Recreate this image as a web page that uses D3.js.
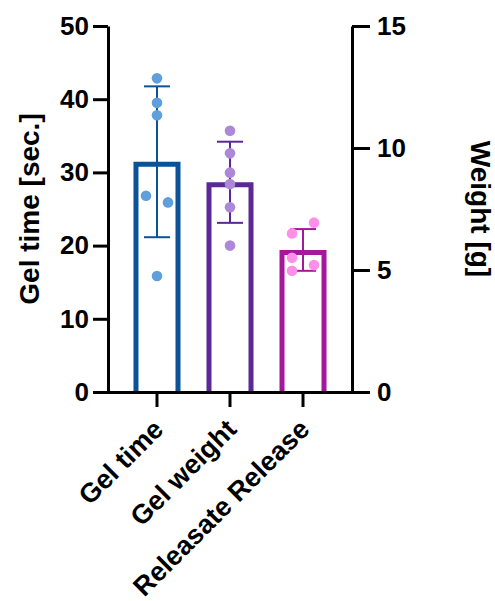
<!DOCTYPE html>
<html lang="en">
  <head>
    <meta charset="UTF-8" />
    <title>Gel time and weight</title>
    <style>
      body {
        margin: 0;
        background: #fff;
      }
      svg text {
        font-family: "Liberation Sans", Arial, sans-serif;
        font-weight: bold;
        fill: #000;
      }
    </style>
  </head>
  <body>
    <svg id="chart"></svg>
    <script src="https://d3js.org/d3.v7.min.js"></script>
    <script>
      const categories = ["Gel time", "Gel weight", "Releasate Release"];
      const axisFor = ["left", "right", "right"];
      const gelTime = [42.85, 39.5, 37.8, 26.8, 25.9, 15.85];
      const gelWeight = [10.71, 9.78, 8.99, 8.52, 7.57, 6.0];
      const releasate = [6.5, 6.94, 5.5, 5.2, 4.97];
      const leftTicks = [0, 10, 20, 30, 40, 50];
      const rightTicks = [0, 5, 10, 15];
      const barColors = ["#0b5296", "#5b2896", "#a5189c"];
      const dotColors = ["#5f9fdc", "#ad88d8", "#ff8fe8"];

      const width = 495;
      const height = 601;
      const svg = d3.select("#chart").attr("width", width).attr("height", height);

      const x = d3.scaleBand().domain(categories).range([108, 352]).paddingInner(0.356).paddingOuter(0.349);
      const yLeft = d3.scaleLinear().domain([0, 50]).range([392, 26]);
      const yRight = d3.scaleLinear().domain([0, 15]).range([392, 26]);

      const groups = [gelTime, gelWeight, releasate].map((values, i) => ({
        name: categories[i],
        values,
        y: axisFor[i] === "left" ? yLeft : yRight,
        mean: d3.mean(values),
        sd: d3.deviation(values),
        bar: barColors[i],
        dot: dotColors[i],
      }));

      const sw = 5;

      // bars (open at the bottom, outer top edge at the mean)
      groups.forEach((g) => {
        const x0 = x(g.name) + sw / 2;
        const x1 = x(g.name) + x.bandwidth() - sw / 2;
        const yt = g.y(g.mean) + sw / 2;
        const y0 = g.y(0);
        svg
          .append("path")
          .attr("d", d3.line()([[x0, y0], [x0, yt], [x1, yt], [x1, y0]]))
          .attr("fill", "#fff")
          .attr("stroke", g.bar)
          .attr("stroke-width", sw)
          .attr("stroke-linejoin", "miter");
      });

      // error bars mean +/- SD
      const capW = 26;
      groups.forEach((g) => {
        const cx = x(g.name) + x.bandwidth() / 2;
        const hi = g.y(g.mean + g.sd);
        const lo = g.y(g.mean - g.sd);
        const eb = svg.append("g").attr("stroke", g.bar).attr("stroke-width", 2);
        eb.append("line").attr("x1", cx).attr("x2", cx).attr("y1", hi).attr("y2", lo);
        eb.append("line").attr("x1", cx - capW / 2).attr("x2", cx + capW / 2).attr("y1", hi).attr("y2", hi);
        eb.append("line").attr("x1", cx - capW / 2).attr("x2", cx + capW / 2).attr("y1", lo).attr("y2", lo);
      });

      // scatter dots, points closer than the gap get spread left/right
      const gap = 11;
      const r = 5.3;
      groups.forEach((g) => {
        const cx = x(g.name) + x.bandwidth() / 2;
        const pts = g.values.map((v, i) => ({ v, i, py: g.y(v), dx: 0 }));
        const sorted = [...pts].sort((a, b) => a.py - b.py);
        const clusters = [];
        sorted.forEach((p, k) => {
          if (k > 0 && p.py - sorted[k - 1].py < gap) clusters[clusters.length - 1].push(p);
          else clusters.push([p]);
        });
        clusters
          .filter((c) => c.length > 1)
          .forEach((c) => {
            c.sort((a, b) => a.i - b.i).forEach((p, k) => (p.dx = k % 2 === 0 ? -gap : gap));
          });
        svg
          .append("g")
          .selectAll("circle")
          .data(pts)
          .join("circle")
          .attr("cx", (d) => cx + d.dx)
          .attr("cy", (d) => d.py)
          .attr("r", r)
          .attr("fill", g.dot);
      });

      // axes
      const tickFs = 26;
      const fs = 27;
      const titleFs = 28;
      const left = svg
        .append("g")
        .attr("transform", "translate(108,0)")
        .call(d3.axisLeft(yLeft).tickValues(leftTicks).tickSize(15).tickPadding(4).tickSizeOuter(0));
      const right = svg
        .append("g")
        .attr("transform", "translate(352,0)")
        .call(d3.axisRight(yRight).tickValues(rightTicks).tickSize(18).tickPadding(7).tickSizeOuter(0));
      const bottom = svg
        .append("g")
        .attr("transform", "translate(0,392)")
        .call(d3.axisBottom(x).tickSize(15).tickSizeOuter(0).tickFormat(() => ""));

      [left, right, bottom].forEach((a) => {
        a.select(".domain").attr("stroke", "#000").attr("stroke-width", 3);
        a.selectAll(".tick line").attr("stroke", "#000").attr("stroke-width", 3);
        a.selectAll("text").attr("font-size", tickFs).attr("font-family", null);
      });
      bottom.select(".domain").attr("d", "M106.5,0.5H353.5");

      // rotated category labels
      svg
        .append("g")
        .selectAll("text")
        .data(categories)
        .join("text")
        .attr("text-anchor", "end")
        .attr("font-size", fs)
        .attr("transform", (d) => `translate(${x(d) + x.bandwidth() / 2 + 8},${431}) rotate(-45)`)
        .text((d) => d);

      // axis titles
      svg
        .append("text")
        .attr("text-anchor", "middle")
        .attr("font-size", titleFs)
        .attr("transform", "translate(39,209) rotate(-90)")
        .text("Gel time [sec.]");
      svg
        .append("text")
        .attr("text-anchor", "middle")
        .attr("font-size", titleFs)
        .attr("transform", "translate(471,209) rotate(90)")
        .text("Weight [g]");
    </script>
  </body>
</html>
